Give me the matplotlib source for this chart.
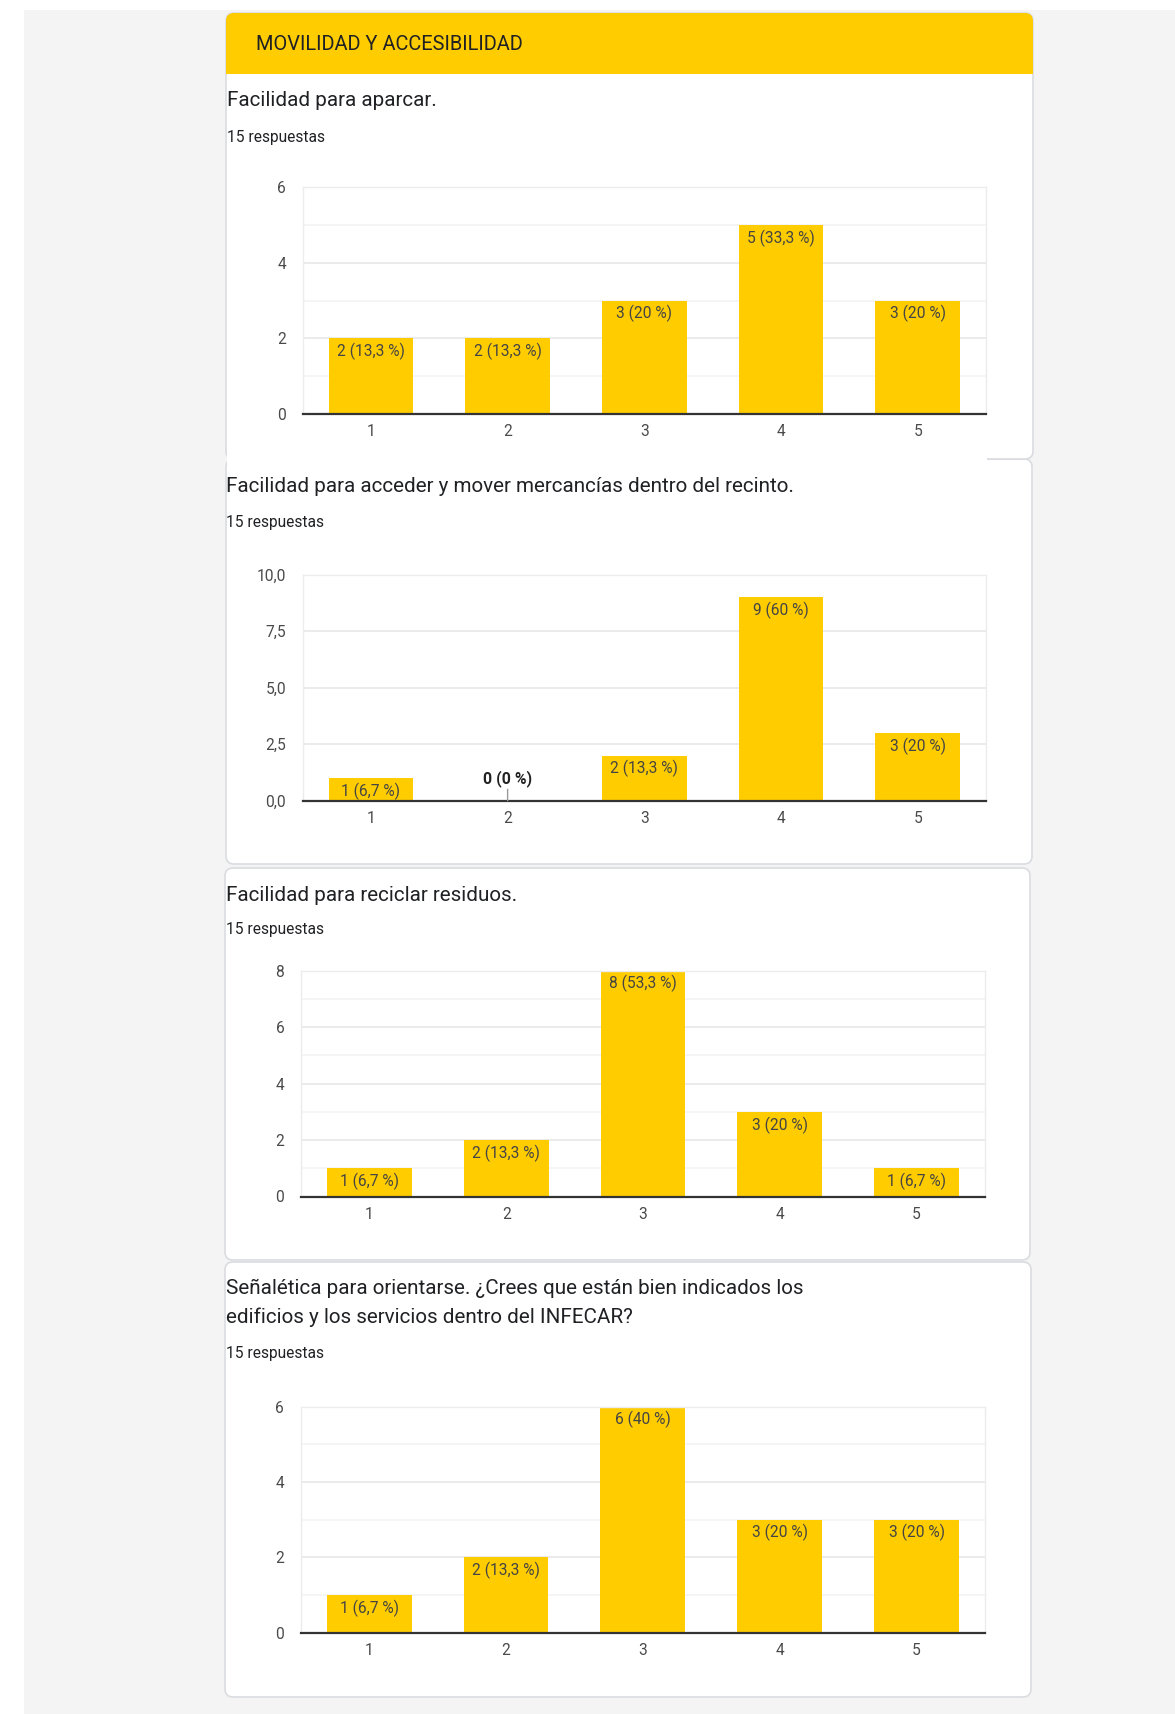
import matplotlib
matplotlib.use("Agg")
import matplotlib.pyplot as plt
from matplotlib.patches import FancyBboxPatch, Rectangle
from matplotlib.ticker import FixedLocator, FuncFormatter

plt.rcParams['font.family'] = ['Roboto', 'DejaVu Sans']

# ---- survey data -------------------------------------------------------
section_title = "MOVILIDAD Y ACCESIBILIDAD"
response_label = "15 respuestas"
total_responses = 15
categories = ['1', '2', '3', '4', '5']

q_aparcar = "Facilidad para aparcar."
v_aparcar = [2, 2, 3, 5, 3]

q_mercancias = "Facilidad para acceder y mover mercancías dentro del recinto."
v_mercancias = [1, 0, 2, 9, 3]

q_reciclar = "Facilidad para reciclar residuos."
v_reciclar = [1, 2, 8, 3, 1]

q_senaletica = ["Señalética para orientarse. ¿Crees que están bien indicados los",
                "edificios y los servicios dentro del INFECAR?"]
v_senaletica = [1, 2, 6, 3, 3]

yticks_aparcar = [0, 2, 4, 6]
yticks_mercancias = [0, 2.5, 5, 7.5, 10]
yticks_reciclar = [0, 2, 4, 6, 8]
yticks_senaletica = [0, 2, 4, 6]

# ---- page geometry (pixels) ------------------------------------------
W, H = 1175, 1714
YELLOW = '#FFCC00'
PAGE_BG = '#f4f4f4'
CARD_EDGE = '#dadce0'
TEXT = '#202124'
TITLE_SIZE = 14.9
RESP_SIZE = 11.2

fig = plt.figure(figsize=(W / 100, H / 100), dpi=100)
fig.patch.set_facecolor('white')

page = fig.add_axes([0, 0, 1, 1])
page.set_xlim(0, W)
page.set_ylim(H, 0)
page.axis('off')
page.set_zorder(0)

page.add_patch(Rectangle((24, 10), W - 24, H - 10, facecolor=PAGE_BG, edgecolor='none'))


def card(x0, y0, x1, y1, face='white', edge=CARD_EDGE, lw=1.2, z=1):
    p = FancyBboxPatch((x0, y0), x1 - x0, y1 - y0,
                       boxstyle="round,pad=0,rounding_size=8",
                       facecolor=face, edgecolor=edge, linewidth=lw, zorder=z)
    page.add_patch(p)


# cards
card(226, 459, 1032, 864)
card(226, 13, 1033, 459)
page.add_patch(Rectangle((227, 452), 760, 12, facecolor='white', edgecolor='none', zorder=2))
card(225, 868, 1030, 1260)
card(225, 1262, 1031, 1697)

# yellow section header
card(226, 13, 1033, 74, face=YELLOW, edge='none', z=3)
page.add_patch(Rectangle((226, 50), 807, 24, facecolor=YELLOW, edgecolor='none', zorder=3))
page.text(256, 50, section_title, fontsize=14.4, color=TEXT, va='baseline', ha='left', zorder=4)


def title_line(x, baseline, text):
    page.text(x, baseline, text, fontsize=TITLE_SIZE, color=TEXT, va='baseline',
              ha='left', zorder=4)


def responses(x, baseline):
    page.text(x, baseline, response_label, fontsize=RESP_SIZE, color=TEXT,
              va='baseline', ha='left', zorder=4)


title_line(227, 106, q_aparcar)
responses(227, 141.5)
title_line(226, 492.3, q_mercancias)
responses(226, 526.7)
title_line(226, 900.7, q_reciclar)
responses(226, 934.3)
title_line(226, 1294.3, q_senaletica[0])
title_line(226, 1323.3, q_senaletica[1])
responses(226, 1358.3)


def pct_label(n):
    pct = round(100 * n / total_responses, 1)
    if abs(pct - round(pct)) < 1e-9:
        s = f"{int(round(pct))}"
    else:
        s = f"{pct:.1f}".replace('.', ',')
    return f"{n} ({s} %)"


def bar_chart(left, right, top, bottom, values, yticks, minor=None, decimals=False):
    ax = fig.add_axes([left / W, 1 - bottom / H, (right - left) / W, (bottom - top) / H])
    ax.set_zorder(5)
    ax.set_facecolor('white')
    x = list(range(len(categories)))
    ax.bar(x, values, width=0.62, color=YELLOW, zorder=2)
    ax.set_xlim(-0.5, len(categories) - 0.5)
    ax.set_ylim(yticks[0], yticks[-1])
    ax.set_xticks(x)
    ax.set_xticklabels(categories)
    ax.yaxis.set_major_locator(FixedLocator(yticks))
    if decimals:
        ax.yaxis.set_major_formatter(FuncFormatter(lambda v, _: f"{v:.1f}".replace('.', ',')))
    else:
        ax.yaxis.set_major_formatter(FuncFormatter(lambda v, _: f"{int(v)}"))
    if minor:
        ax.yaxis.set_minor_locator(FixedLocator(minor))
        ax.grid(axis='y', which='minor', color='#f4f4f4', linewidth=1.3)
    ax.grid(axis='y', which='major', color='#ebebeb', linewidth=1.4)
    ax.set_axisbelow(True)
    ax.tick_params(axis='both', which='both', length=0, labelsize=11.2, labelcolor='#4a4a4a')
    ax.tick_params(axis='y', pad=12)
    ax.tick_params(axis='x', pad=7.5)
    for s in ('left', 'right', 'top'):
        ax.spines[s].set_color('#ececec')
        ax.spines[s].set_linewidth(1.0)
    ax.spines['bottom'].set_color('#333333')
    ax.spines['bottom'].set_linewidth(1.6)
    ax.spines['bottom'].set_zorder(3)
    for i, v in enumerate(values):
        if v > 0:
            ax.annotate(pct_label(v), xy=(i, v), xytext=(0, -9.4), textcoords='offset points',
                        ha='center', va='center', fontsize=11.2, color='#444444', zorder=4)
        else:
            ax.annotate(pct_label(v), xy=(i, 0), xytext=(0, 16.3), textcoords='offset points',
                        ha='center', va='center', fontsize=11.4, color='#222222',
                        fontweight='bold', zorder=4,
                        arrowprops=dict(arrowstyle='-', color='#9a9a9a', lw=1.0,
                                        shrinkA=0, shrinkB=0))
    return ax


bar_chart(302.6, 986, 187.3, 414, v_aparcar, yticks_aparcar, minor=[1, 3, 5])
bar_chart(302.6, 986, 574.7, 800.7, v_mercancias, yticks_mercancias, decimals=True)
bar_chart(301, 985, 970.7, 1196.5, v_reciclar, yticks_reciclar, minor=[1, 3, 5, 7])
bar_chart(300.7, 985, 1406.7, 1632.7, v_senaletica, yticks_senaletica, minor=[1, 3, 5])

fig.savefig('out.png', dpi=100)
